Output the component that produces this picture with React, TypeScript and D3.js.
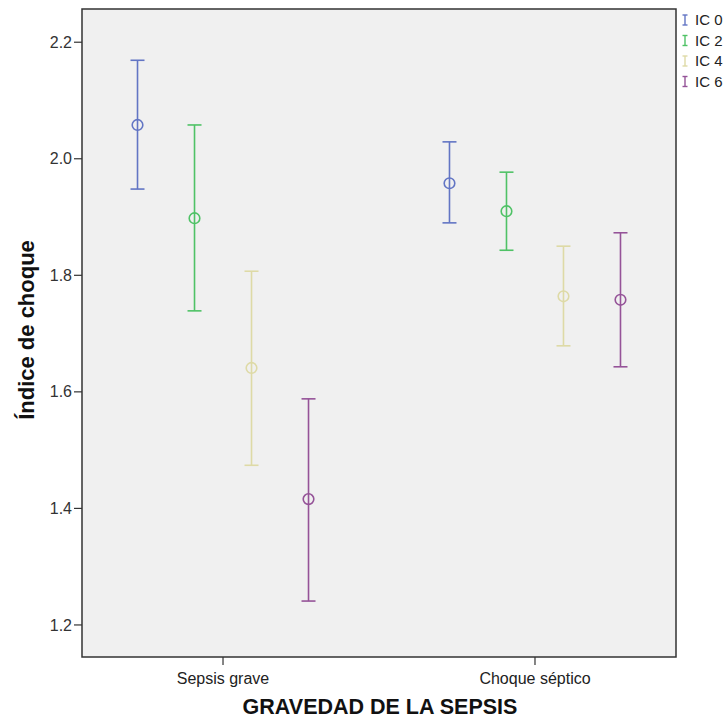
import React from 'react';
import * as d3 from 'd3';

const groups = ['Sepsis grave', 'Choque séptico'];
const series = ['IC 0', 'IC 2', 'IC 4', 'IC 6'];
const colors = ['#6275c4', '#4fc266', '#dedaa6', '#955398'];

// means, upper and lower CI, per group, per series
const means = [
  [2.058, 1.898, 1.641, 1.416],
  [1.958, 1.910, 1.764, 1.758],
];
const upper = [
  [2.169, 2.058, 1.807, 1.588],
  [2.029, 1.977, 1.850, 1.873],
];
const lower = [
  [1.948, 1.739, 1.474, 1.241],
  [1.890, 1.843, 1.679, 1.643],
];
const yTicks = [1.2, 1.4, 1.6, 1.8, 2.0, 2.2];

const App = () => {
  const width = 725, height = 723;
  const left = 82, right = 676, top = 9, bottom = 657;

  const y = d3.scaleLinear().domain([1.145, 2.257]).range([bottom, top]);
  const x = d3.scalePoint().domain(groups).range([left, right]).padding(0.452);
  const off = d3.scalePoint().domain(series).range([-85.5, 85.5]);

  const font = '"Liberation Sans", Arial, sans-serif';
  const cap = 7;

  return (
    <svg width={width} height={height} style={{ position: 'absolute', left: 0, top: 0, background: '#fff' }} fontFamily={font}>
      <rect x={left} y={top} width={right - left} height={bottom - top} fill="#f0f0f0" stroke="#333" strokeWidth={1.5} />

      {yTicks.map(t => (
        <g key={t}>
          <line x1={left - 8} x2={left} y1={y(t)} y2={y(t)} stroke="#333" strokeWidth={1.2} />
          <text x={left - 10} y={y(t)} dy="0.35em" textAnchor="end" fontSize={16} fill="#333">{t.toFixed(1)}</text>
        </g>
      ))}

      {groups.map(g => (
        <g key={g}>
          <line x1={x(g)} x2={x(g)} y1={bottom} y2={bottom + 8} stroke="#333" strokeWidth={1.2} />
          <text x={x(g)} y={684} textAnchor="middle" fontSize={16} fill="#222">{g}</text>
        </g>
      ))}

      {groups.map((g, gi) => series.map((s, si) => {
        const cx = (x(g) as number) + (off(s) as number);
        return (
          <g key={g + s} stroke={colors[si]} strokeWidth={1.6} fill="none">
            <line x1={cx} x2={cx} y1={y(upper[gi][si])} y2={y(lower[gi][si])} />
            <line x1={cx - cap} x2={cx + cap} y1={y(upper[gi][si])} y2={y(upper[gi][si])} />
            <line x1={cx - cap} x2={cx + cap} y1={y(lower[gi][si])} y2={y(lower[gi][si])} />
            <circle cx={cx} cy={y(means[gi][si])} r={5.3} />
          </g>
        );
      }))}

      <text transform={`translate(34,330) rotate(-90)`} textAnchor="middle" fontSize={22} fontWeight="bold" fill="#111">Índice de choque</text>
      <text x={380} y={714} textAnchor="middle" fontSize={21.5} fontWeight="bold" fill="#111">GRAVEDAD DE LA SEPSIS</text>

      {series.map((s, i) => {
        const ly = 20 + i * 20.5;
        return (
          <g key={s}>
            <g stroke={colors[i]} strokeWidth={1.4}>
              <line x1={685} x2={685} y1={ly - 5} y2={ly + 5} />
              <line x1={682.5} x2={687.5} y1={ly - 5} y2={ly - 5} />
              <line x1={682.5} x2={687.5} y1={ly + 5} y2={ly + 5} />
            </g>
            <text x={695} y={ly} dy="0.35em" fontSize={15} fill="#222">{s}</text>
          </g>
        );
      })}
    </svg>
  );
};

export default App;
